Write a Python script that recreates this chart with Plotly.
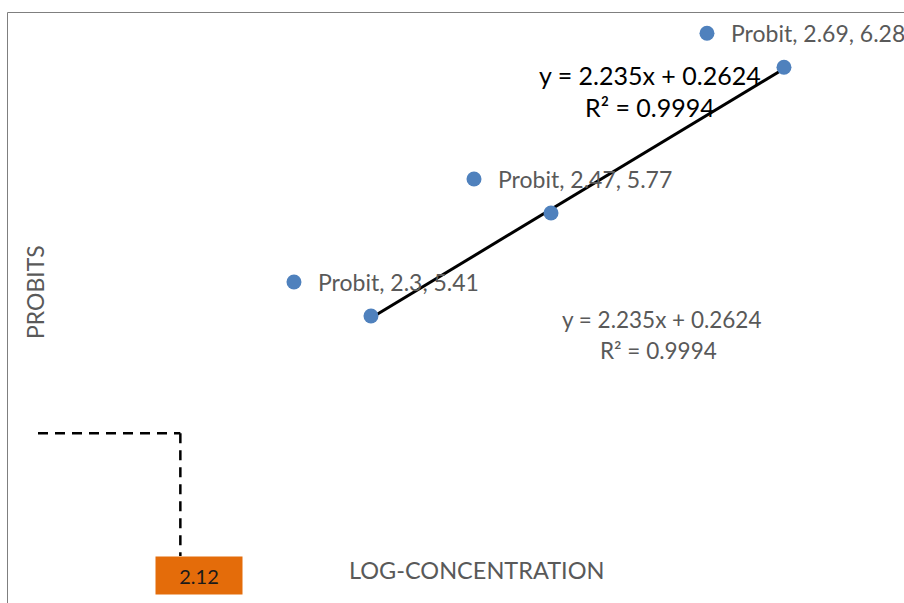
import plotly.graph_objects as go

# ---- data ----
log_conc = [2.3, 2.47, 2.69]
probits = [5.41, 5.77, 6.28]
series_name = "Probit"
slope = 2.235
intercept = 0.2624
r_squared = 0.9994
target_probit = 5
lc50_log = round((target_probit - intercept) / slope, 2)  # 2.12
x_title = "LOG-CONCENTRATION"
y_title = "PROBITS"

# ---- layout constants (pixel mapping) ----
W, H = 904, 603
PX_X = 1059.0   # px per x unit
PX_Y = 286.0    # px per y unit
X0 = 1.9497
Y1 = 6.5149
XR = [X0, X0 + W / PX_X]
YR = [Y1 - H / PX_Y, Y1]
GHOST_DX = 77 / PX_X   # ghost copy shifted left
GHOST_DY = 34 / PX_Y   # ghost copy shifted up

BLUE = "#4f81bd"
GRAY = "#595959"
FONT = "Lato"

fig = go.Figure()

# ghost (labelled) points on shifted axes
fig.add_trace(go.Scatter(
    x=log_conc, y=probits, mode="markers", xaxis="x2", yaxis="y2",
    marker=dict(color=BLUE, size=15), showlegend=False, hoverinfo="skip"))

# trendline
tx = [min(log_conc), max(log_conc)]
ty = [slope * v + intercept for v in tx]
fig.add_trace(go.Scatter(x=tx, y=ty, mode="lines",
                         line=dict(color="black", width=3), showlegend=False))

# actual points
fig.add_trace(go.Scatter(x=log_conc, y=probits, mode="markers",
                         marker=dict(color=BLUE, size=15), showlegend=False))

annotations = []
for xv, yv in zip(log_conc, probits):
    annotations.append(dict(
        x=xv, y=yv, xref="x2", yref="y2", text=f"{series_name}, {xv:g}, {yv:g}",
        showarrow=False, xanchor="left", yanchor="middle", xshift=22,
        font=dict(family=FONT, size=23, color=GRAY)))

eq = f"y = {slope}x + {intercept}"
r2 = f"R² = {r_squared}"
# black equation near line end
annotations.append(dict(x=650 / W, y=1 - 75 / H, xref="paper", yref="paper",
                        text=eq, showarrow=False, xanchor="center", yanchor="middle",
                        font=dict(family=FONT, size=25, color="black")))
annotations.append(dict(x=650 / W, y=1 - 107 / H, xref="paper", yref="paper",
                        text=r2, showarrow=False, xanchor="center", yanchor="middle",
                        font=dict(family=FONT, size=25, color="black")))
# gray equation
annotations.append(dict(x=661 / W, y=1 - 319 / H, xref="paper", yref="paper",
                        text=eq, showarrow=False, xanchor="center", yanchor="middle",
                        font=dict(family=FONT, size=22.5, color=GRAY)))
annotations.append(dict(x=658 / W, y=1 - 350 / H, xref="paper", yref="paper",
                        text=r2, showarrow=False, xanchor="center", yanchor="middle",
                        font=dict(family=FONT, size=22.5, color=GRAY)))
# axis titles
annotations.append(dict(x=477 / W, y=1 - 570 / H, xref="paper", yref="paper",
                        text=x_title, showarrow=False, xanchor="center", yanchor="middle",
                        font=dict(family=FONT, size=23.5, color=GRAY)))
annotations.append(dict(x=35 / W, y=1 - 292 / H, xref="paper", yref="paper",
                        text=y_title, showarrow=False, xanchor="center", yanchor="middle",
                        textangle=-90, font=dict(family=FONT, size=23, color=GRAY)))
# orange LC50 box
annotations.append(dict(x=lc50_log, y=1 - 575.5 / H, xref="x", yref="paper",
                        text=f"{lc50_log:.2f}", showarrow=False, xanchor="center",
                        yanchor="middle", xshift=19, width=78, height=29,
                        bgcolor="#e46c0a", borderpad=4,
                        font=dict(family=FONT, size=20, color="#1a1a1a")))

DASH = dict(color="black", width=2.5, dash="10px,7px")
shapes = [
    # outer border
    dict(type="rect", xref="paper", yref="paper", x0=7.5 / W, x1=1.2, y0=-0.2,
         y1=1 - 12.5 / H, line=dict(color="#7f7f7f", width=1)),
    # dashed LC50 guide lines
    dict(type="line", xref="paper", yref="y", x0=38 / W, x1=(lc50_log - X0) / (XR[1] - XR[0]),
         y0=target_probit, y1=target_probit, line=DASH),
    dict(type="line", xref="x", yref="paper", x0=lc50_log, x1=lc50_log,
         y0=(target_probit - YR[0]) / (YR[1] - YR[0]), y1=1 - 556 / H, line=DASH),
]

ax_common = dict(visible=False, showgrid=False, zeroline=False, fixedrange=True)
fig.update_layout(
    width=W, height=H, margin=dict(l=0, r=0, t=0, b=0),
    paper_bgcolor="white", plot_bgcolor="white",
    xaxis=dict(range=XR, domain=[0, 1], **ax_common),
    yaxis=dict(range=YR, domain=[0, 1], **ax_common),
    xaxis2=dict(range=[XR[0] + GHOST_DX, XR[1] + GHOST_DX], overlaying="x", **ax_common),
    yaxis2=dict(range=[YR[0] - GHOST_DY, YR[1] - GHOST_DY], overlaying="y", **ax_common),
    annotations=annotations, shapes=shapes, showlegend=False,
)

fig.write_html("out.html", config={"displayModeBar": False})
